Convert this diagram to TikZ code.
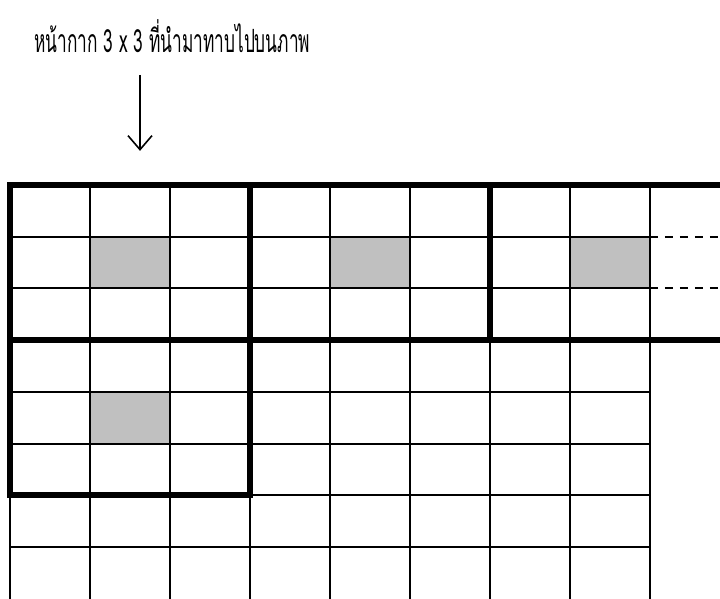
\documentclass[tikz,border=0pt]{standalone}
\usepackage{fontspec}
\newfontfamily\thaifont[Script=Thai,FakeStretch=0.54]{Loma}
\usetikzlibrary{arrows.meta}
\definecolor{maskgray}{RGB}{192,192,192}

\begin{document}
\begin{tikzpicture}[
  x=40pt, y=-25.875pt,
  cell/.style={draw=black, line width=1pt},
  blk/.style={draw=black, line width=3pt},
  hole/.style={fill=maskgray},
  cont/.style={draw=black, line width=1pt, dash pattern=on 4pt off 3.5pt},
  arr/.style={-{Straight Barb[length=7pt,width=12pt,line width=0.8pt]}, line width=0.8pt}
]
\useasboundingbox (-0.125,-3.575) rectangle (8.875,8);
\node[font=\thaifont\fontsize{16}{19}\selectfont, inner sep=0pt] (title) at (2.03,-2.88)
  {หน้ากาก 3 x 3 ที่นำมาทาบไปบนภาพ};
\coordinate (arrtail) at (1.625,-2.13);
\coordinate (arrhead) at (1.625,-0.66);
\draw[arr] (arrtail) -- (arrhead);

% centre pixels under the mask
\fill[hole] (1,1) rectangle (2,2);
\fill[hole] (4,1) rectangle (5,2);
\fill[hole] (7,1) rectangle (8,2);
\fill[hole] (1,4) rectangle (2,5);

% image grid
\foreach \c in {0,...,8} \draw[cell] (\c,0) -- (\c,8);
\foreach \r in {1,2,4,5,6,7} \draw[cell] (0,\r) -- (8,\r);
\draw[cont] (8,1) -- (8.875,1);
\draw[cont] (8,2) -- (8.875,2);

% mask positions
\draw[blk] (0,0) rectangle (3,3);
\draw[blk] (3,0) rectangle (6,3);
\draw[blk] (8.875,0) -- (6,0) -- (6,3) -- (8.875,3);
\draw[blk] (0,3) rectangle (3,6);
\end{tikzpicture}
\end{document}
